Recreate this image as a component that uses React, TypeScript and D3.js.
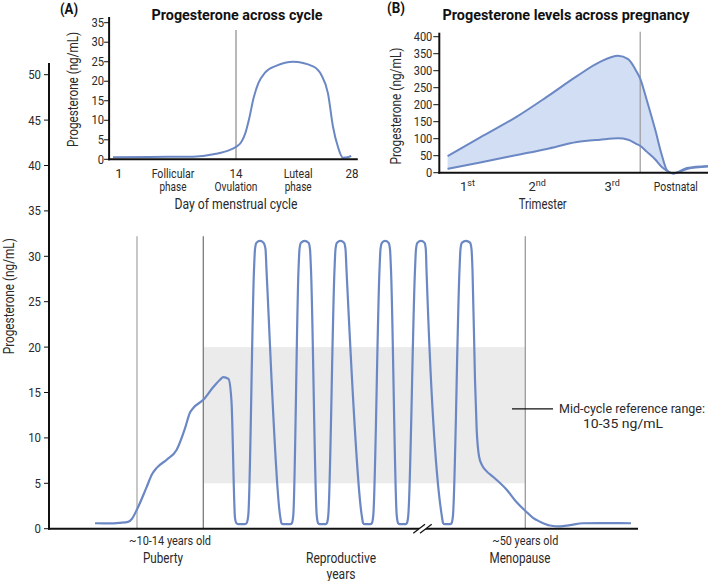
import React from "react";
import * as d3 from "d3";

// ---------- Main chart data (timeline position t, progesterone ng/mL) ----------
const mainT = [45, 60, 70, 78, 82, 86.7, 96.7, 102, 106.7, 116.7, 126.7, 135, 140, 143.3, 153.3, 163.3, 170, 173.3, 178.5, 181.5, 185, 186.5, 188.5, 194.5, 196.5,
  198.3, 204, 205, 206.5, 210, 213.5, 215.5, 216.5, 230, 231.5, 233, 240.3, 241.8,
  243.3, 248.5, 249.5, 251, 254.7, 258.5, 260, 261, 266.7, 268.2, 269.7, 275.3, 276.8,
  278.3, 284.5, 285.5, 287, 290.5, 294, 295.5, 296.5, 311.7, 313.2, 314.7, 320.3, 321.8,
  323.3, 329.5, 330.5, 332, 335.2, 338.5, 340, 341, 346.7, 348.2, 349.7, 355.3, 356.8,
  358.3, 365, 366, 367.5, 371, 374.5, 375.8, 376.5, 391.7, 393.2, 394.7, 400, 401.5,
  403, 409.5, 410.5, 412, 416, 420, 421.5, 422.5,
  425, 426.7, 429, 432, 436, 443.3, 456.7, 466, 476, 483, 490, 500, 510, 520, 533, 550, 581];
const mainV = [0.6, 0.58, 0.65, 0.75, 1.1, 2.06, 4.6, 6.0, 6.7, 7.6, 8.7, 11.05, 12.8, 13.3, 14.2, 15.6, 16.4, 16.7, 16.5, 14.0, 1.2, 0.6, 0.5, 0.5, 0.6,
  1.5, 28.5, 30.8, 31.5, 31.7, 31.5, 30.8, 28.5, 1.5, 0.6, 0.5, 0.5, 0.6,
  1.5, 28.5, 30.8, 31.5, 31.7, 31.5, 30.8, 28.5, 1.5, 0.6, 0.5, 0.5, 0.6,
  1.5, 28.5, 30.8, 31.5, 31.7, 31.5, 30.8, 28.5, 1.5, 0.6, 0.5, 0.5, 0.6,
  1.5, 28.5, 30.8, 31.5, 31.7, 31.5, 30.8, 28.5, 1.5, 0.6, 0.5, 0.5, 0.6,
  1.5, 28.5, 30.8, 31.5, 31.7, 31.5, 30.8, 28.5, 1.5, 0.6, 0.5, 0.5, 0.6,
  1.5, 28.5, 30.8, 31.5, 31.7, 31.5, 30.8, 28.5,
  16.4, 10.9, 8.0, 7.0, 6.4, 5.7, 4.3, 3.0, 1.9, 1.2, 0.77, 0.35, 0.25, 0.4, 0.6, 0.62, 0.6];
const mainTicks = [0, 5, 10, 15, 20, 25, 30, 35, 40, 45, 50];
const refRange = [5, 20];
const eventT = [87, 153.3, 475.3]; // puberty, reproductive start, menopause
const eventColors = ["#aaaaaa", "#7a7a7a", "#9a9a9a"];
const breakT = 372;

// ---------- Inset A: menstrual cycle ----------
const cycleDay = [0.33, 4.4, 9.2, 11.8, 13.2, 14.0, 14.6, 15.1, 15.6, 16.1, 16.7, 17.5, 18.9, 20.9, 23.3, 24.3, 25.1, 25.7, 26.3, 26.9, 27.5, 27.9];
const cycleV = [0.5, 0.6, 0.67, 1.4, 2.3, 3.2, 4.3, 6.5, 10.5, 15.5, 19.5, 22.2, 24.0, 25.0, 23.8, 21.6, 16.9, 8.4, 3.2, 0.4, 0.5, 0.85];
const cycleTicks = [0, 5, 10, 15, 20, 25, 30, 35];
const ovulationDay = 14;

// ---------- Inset B: pregnancy (weeks) ----------
const pregWeek = [1.65, 8.15, 15.45, 21.4, 27.4, 32.0, 35.6, 37.6, 39.3, 40, 41.3, 43.0, 44.3, 45.3, 46.0, 46.6, 49.3, 53.5];
const pregHigh = [49, 104, 165, 223, 284, 326, 344, 334, 297, 277, 214, 126, 52, 8, 0, -2, 14, 20];
const pregLow = [11, 30, 52, 70, 90, 97, 101, 97, 84, 79, 62, 39, 17, 6, 0, -2, 11, 18];
const pregTicks = [0, 50, 100, 150, 200, 250, 300, 350, 400];
const birthWeek = 40;
const trimesterPos = [5.6, 19.5, 34.4];
const trimesterLabels = [["1", "st"], ["2", "nd"], ["3", "rd"]];
const postnatalPos = 47.1;

const FONT = "Roboto, 'Liberation Sans', Arial, sans-serif";
const BLUE = "#6b88c4";
const FILL = "#d2def3";
const TXT = "#2a2a2a";

type LP = { x: number; y: number; w?: number; size?: number; bold?: boolean; anchor?: string; fill?: string; transform?: string; children: React.ReactNode };
function Label({ x, y, w, size = 14, bold, anchor = "middle", fill = TXT, transform, children }: LP) {
  return (
    <text x={x} y={y} transform={transform} fontSize={size} fontWeight={bold ? "bold" : "normal"} textAnchor={anchor}
      fill={fill} textLength={w} lengthAdjust={w ? "spacingAndGlyphs" : undefined}>{children}</text>
  );
}

export default function App() {
  // scales
  const xM = d3.scaleLinear().domain([0, 588]).range([50, 638]);
  const yM = d3.scaleLinear().domain([0, 50]).range([528.7, 74.7]);
  const xA = d3.scaleLinear().domain([1, 14, 28]).range([119, 236, 352]);
  const yA = d3.scaleLinear().domain([0, 35]).range([159.3, 22.7]);
  const xB = d3.scaleLinear().domain([0, 53.5]).range([439.3, 708]);
  const yB = d3.scaleLinear().domain([0, 400]).range([172.7, 36.7]);

  const mainPts = mainT.map((t, i) => [t, mainV[i]] as [number, number]);
  const mainLine = d3.line<[number, number]>().x(d => xM(d[0])).y(d => yM(d[1])).curve(d3.curveMonotoneX)(mainPts) || "";

  const cyclePts = cycleDay.map((t, i) => [t, cycleV[i]] as [number, number]);
  const cycleLine = d3.line<[number, number]>().x(d => xA(d[0])).y(d => yA(d[1])).curve(d3.curveMonotoneX)(cyclePts) || "";

  const pregIdx = pregWeek.map((_, i) => i);
  const pregArea = d3.area<number>().x(i => xB(pregWeek[i])).y0(i => yB(pregLow[i])).y1(i => yB(pregHigh[i])).curve(d3.curveMonotoneX)(pregIdx) || "";
  const pregHi = d3.line<number>().x(i => xB(pregWeek[i])).y(i => yB(pregHigh[i])).curve(d3.curveMonotoneX)(pregIdx) || "";
  const pregLo = d3.line<number>().x(i => xB(pregWeek[i])).y(i => yB(pregLow[i])).curve(d3.curveMonotoneX)(pregIdx) || "";

  const bx = xM(breakT);
  const by = yM(0);

  return (
    <svg width={711} height={581} style={{ position: "absolute", left: 0, top: 0, fontFamily: FONT }}>
      <rect x={0} y={0} width={711} height={581} fill="#fff" />

      {/* ===== Main chart ===== */}
      <rect x={xM(eventT[1])} y={yM(refRange[1])} width={xM(eventT[2]) - xM(eventT[1])} height={yM(refRange[0]) - yM(refRange[1])} fill="#ebebeb" />
      {eventT.map((t, i) => (
        <line key={i} x1={xM(t)} x2={xM(t)} y1={yM(32.2)} y2={yM(0)} stroke={eventColors[i]} strokeWidth={1.3} />
      ))}
      <path d={mainLine} fill="none" stroke={BLUE} strokeWidth={2.2} strokeLinejoin="round" />
      {/* axes */}
      <line x1={xM(0) - 1} x2={xM(0) - 1} y1={yM(51.3)} y2={yM(0) + 1} stroke="#111" strokeWidth={2} />
      <line x1={xM(0) - 2} x2={xM(588)} y1={yM(0)} y2={yM(0)} stroke="#111" strokeWidth={2} />
      {mainTicks.map(v => (
        <g key={v}>
          <line x1={xM(0) - 6} x2={xM(0) - 1} y1={yM(v)} y2={yM(v)} stroke="#111" strokeWidth={1} />
          <Label x={xM(0) - 9} y={yM(v) + 4.5} anchor="end" size={12.5} w={String(v).length * 6.4}>{v}</Label>
        </g>
      ))}
      <Label x={0} y={0} transform={`translate(13.5,${yM(25.6)}) rotate(-90)`} w={116}>Progesterone (ng/mL)</Label>
      {/* axis break */}
      <polygon points={`${bx - 8.7},${by + 4.5} ${bx + 3},${by - 4.5} ${bx + 9.7},${by - 4.5} ${bx - 2},${by + 4.5}`} fill="#fff" />
      <line x1={bx - 8.7} y1={by + 4.5} x2={bx + 3} y2={by - 4.5} stroke="#111" strokeWidth={1.2} />
      <line x1={bx - 2} y1={by + 4.5} x2={bx + 9.7} y2={by - 4.5} stroke="#111" strokeWidth={1.2} />
      {/* x labels */}
      <Label x={xM(120)} y={544.5} size={12.5} w={82}>~10-14 years old</Label>
      <Label x={xM(113)} y={562.5} w={40}>Puberty</Label>
      <Label x={xM(291)} y={562.5} w={70}>Reproductive</Label>
      <Label x={xM(291)} y={579} w={29}>years</Label>
      <Label x={xM(475.3)} y={544.5} size={12.5} w={66}>~50 years old</Label>
      <Label x={xM(470)} y={562.5} w={61}>Menopause</Label>
      {/* annotation */}
      <line x1={xM(462)} x2={xM(503)} y1={yM(13.2)} y2={yM(13.2)} stroke="#111" strokeWidth={1.3} />
      <Label x={xM(582)} y={413} size={12.5} w={146}>Mid-cycle reference range:</Label>
      <Label x={xM(573)} y={427.5} size={12.5} w={80}>10-35 ng/mL</Label>

      {/* ===== Inset A ===== */}
      <Label x={69} y={13.5} size={15} bold fill="#111" w={18}>(A)</Label>
      <Label x={237} y={20} size={15} bold fill="#111" w={171}>Progesterone across cycle</Label>
      <line x1={xA(ovulationDay)} x2={xA(ovulationDay)} y1={30} y2={yA(0)} stroke="#8a8a8a" strokeWidth={1.2} />
      <path d={cycleLine} fill="none" stroke={BLUE} strokeWidth={2} />
      <line x1={xA(-0.1)} x2={xA(-0.1)} y1={17} y2={yA(0) + 1} stroke="#111" strokeWidth={2} />
      <line x1={xA(-0.1) - 1} x2={xA(28.7)} y1={yA(0)} y2={yA(0)} stroke="#111" strokeWidth={2} />
      {cycleTicks.map(v => (
        <g key={v}>
          <line x1={xA(-0.1) - 5} x2={xA(-0.1)} y1={yA(v)} y2={yA(v)} stroke="#111" strokeWidth={1} />
          <Label x={xA(-0.1) - 5} y={yA(v) + 4.2} anchor="end" size={12} w={String(v).length * 6.3}>{v}</Label>
        </g>
      ))}
      <Label x={0} y={0} transform={`translate(78,${yA(17.9)}) rotate(-90)`} w={115}>Progesterone (ng/mL)</Label>
      <Label x={xA(1)} y={177.5} size={13}>1</Label>
      <Label x={xA(14)} y={177.5} size={13} w={13}>14</Label>
      <Label x={xA(28)} y={177.5} size={13} w={13}>28</Label>
      <Label x={xA(7)} y={177.5} size={13} w={42.7}>Follicular</Label>
      <Label x={xA(7)} y={191} size={13} w={27}>phase</Label>
      <Label x={xA(14)} y={191} size={13} w={43}>Ovulation</Label>
      <Label x={xA(21.5)} y={177.5} size={13} w={29}>Luteal</Label>
      <Label x={xA(21.5)} y={191} size={13} w={27}>phase</Label>
      <Label x={xA(14)} y={208.5} w={123}>Day of menstrual cycle</Label>

      {/* ===== Inset B ===== */}
      <Label x={396} y={12.5} size={15} bold fill="#111" w={18}>(B)</Label>
      <Label x={566} y={20} size={15} bold fill="#111" w={247}>Progesterone levels across pregnancy</Label>
      <path d={pregArea} fill={FILL} stroke="none" />
      <line x1={xB(birthWeek)} x2={xB(birthWeek)} y1={31.7} y2={yB(0)} stroke="#9a9a9a" strokeWidth={1.2} />
      <path d={pregHi} fill="none" stroke={BLUE} strokeWidth={2} />
      <path d={pregLo} fill="none" stroke={BLUE} strokeWidth={2} />
      <line x1={xB(0)} x2={xB(0)} y1={32.7} y2={yB(0) + 1} stroke="#111" strokeWidth={2} />
      <line x1={xB(0) - 1} x2={xB(53.5)} y1={yB(0)} y2={yB(0)} stroke="#111" strokeWidth={2} />
      {pregTicks.map(v => (
        <g key={v}>
          <line x1={xB(0) - 6} x2={xB(0)} y1={yB(v)} y2={yB(v)} stroke="#111" strokeWidth={1} />
          <Label x={xB(0) - 7} y={yB(v) + 4.2} anchor="end" size={12} w={String(v).length * 6.2}>{v}</Label>
        </g>
      ))}
      <Label x={0} y={0} transform={`translate(401,${yB(196)}) rotate(-90)`} w={117}>Progesterone (ng/mL)</Label>
      {trimesterPos.map((w, i) => (
        <text key={i} x={xB(w)} y={190.5} textAnchor="middle" fontSize={13} fill={TXT}>
          {trimesterLabels[i][0]}
          <tspan fontSize={9} dy={-5}>{trimesterLabels[i][1]}</tspan>
        </text>
      ))}
      <Label x={xB(postnatalPos)} y={190.5} size={13} w={44}>Postnatal</Label>
      <Label x={542.7} y={208.5} w={48}>Trimester</Label>
    </svg>
  );
}
